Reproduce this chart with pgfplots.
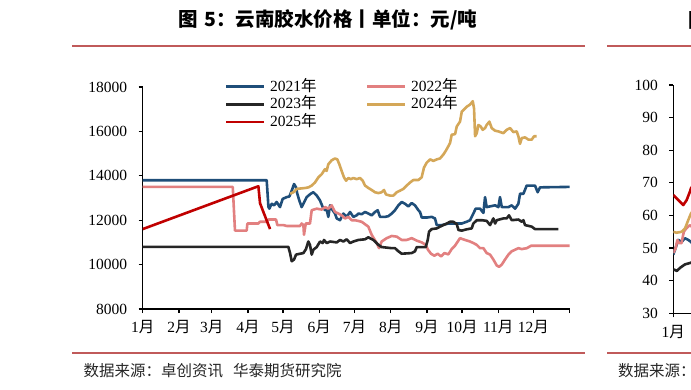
\documentclass[border=0pt]{standalone}
\usepackage{fontspec}
\usepackage{pgfplots}
\pgfplotsset{compat=1.18}
\setmainfont{Liberation Serif}
\newfontfamily\cjk{Noto Sans CJK SC}
\definecolor{c21}{RGB}{31,78,121}
\definecolor{c22}{RGB}{226,128,128}
\definecolor{c23}{RGB}{38,38,38}
\definecolor{c24}{RGB}{212,167,88}
\definecolor{c25}{RGB}{192,0,0}
\definecolor{rulec}{RGB}{192,90,90}
\newcommand{\fs}{\fontsize{15.5}{18}\selectfont}
\newcommand{\yue}{{\cjk 月}}
\newcommand{\nian}{{\cjk 年}}
\pgfplotsset{myax/.style={
  scale only axis, axis lines*=left,
  axis line style={line width=1.2pt, black},
  every tick/.style={line width=1.2pt, black},
  major tick length=4pt, tick align=outside,
  ticklabel style={font=\fs},
  scaled y ticks=false,
  /pgf/number format/assume math mode=true,
  /pgf/number format/1000 sep={},
  xtick={0,31,59,90,120,151,181,212,243,273,304,334,365},
  xticklabels={1\yue,2\yue,3\yue,4\yue,5\yue,6\yue,7\yue,8\yue,9\yue,10\yue,11\yue,12\yue,{}},
  xmin=0, xmax=365,
  yticklabel shift=8pt, xticklabel shift=4pt,
  every axis plot/.append style={line width=2.6pt, line join=round, no marks},
}}
\begin{document}
\begin{tikzpicture}[x=1pt,y=1pt]
\useasboundingbox (0,0) rectangle (691,389);
\clip (0,0) rectangle (691,389);
\node[font=\cjk\bfseries\fontsize{19.5}{22}\selectfont, inner sep=0pt] at (328,369) {图\hspace{0.3em}5：云南胶水价格丨单位：元/吨};
\node[font=\cjk\bfseries\fontsize{19.5}{22}\selectfont, inner sep=0pt, anchor=west] at (688.5,369) {图};
\draw[rulec, line width=2pt] (72,343.3) -- (585,343.3);
\draw[rulec, line width=2pt] (607,343.3) -- (691,343.3);
\draw[rulec, line width=2pt] (72,35.7) -- (585,35.7);
\draw[rulec, line width=2pt] (607,35.7) -- (691,35.7);
\node[anchor=west, inner sep=0pt, font=\cjk\fs, text=black!85] at (83.3,18.3) {数据来源：卓创资讯\hspace{0.65em}华泰期货研究院};
\node[anchor=west, inner sep=0pt, font=\cjk\fs, text=black!85] at (618,18.3) {数据来源：卓创资讯\hspace{0.65em}华泰期货研究院};

\begin{axis}[myax,
  at={(142.7pt,80pt)}, anchor=south west,
  width=426.9pt, height=222pt,
  ymin=8000, ymax=18000, ytick={8000,10000,...,18000},
  legend columns=2,
  legend image code/.code={\draw[#1] (0pt,0pt) -- (38pt,0pt);},
  legend style={draw=none, fill=none, inner sep=0pt, outer sep=0pt,
    at={(axis description cs:0.1928,1.036)}, anchor=north west,
    font=\fs, row sep=2.8pt,
    nodes={inner ysep=0pt, inner xsep=4.5pt, text height=12pt, text depth=3pt, anchor=west},
    /tikz/every even column/.append style={column sep=45pt}},
  legend cell align=left,
]
\addplot[c21] coordinates {(0,13800)(106,13800)(107.5,12600)(108.3,12520)(110.3,12740)(112.3,12670)(114.5,12820)(117.4,12590)(119.7,12960)(123.1,13040)(125.4,13070)(127.4,13330)(129.4,13630)(131.1,13480)(132.2,13190)(133.9,12890)(135.9,12590)(137.4,12740)(140.2,13040)(143.6,13190)(145.9,13260)(148.8,13110)(151.6,12890)(153.9,12590)(155.9,12450)(157.3,12480)(158.7,12150)(160.2,12670)(162.4,12450)(164.4,12300)(165.9,12080)(168.7,12000)(171.6,12300)(174.4,12150)(177.3,12370)(180.1,12150)(182.9,12220)(184.4,12300)(187.2,12270)(190.1,12370)(192.9,12300)(195.8,12220)(198.6,12370)(200.9,12450)(202.9,12150)(207.2,12150)(210.0,12180)(212.9,12300)(215.7,12450)(218.6,12670)(221.4,12820)(224.3,12740)(227.1,12620)(230.0,12770)(232.8,12670)(235.7,12450)(237.1,12370)(238.6,12120)(242.9,12120)(247.1,12150)(249.9,12080)(251.4,11780)(255.7,11780)(261.4,11850)(272.7,11850)(277.0,11930)(279.9,12000)(282.7,12300)(284.7,12520)(288.4,12520)(291.3,12330)(292.7,13040)(294.1,12590)(301.3,12670)(304.1,12590)(305.5,13040)(307.0,12590)(312.7,12590)(315.5,12670)(318.4,12520)(321.2,12740)(322.6,13190)(325.5,13190)(328.3,13560)(335.4,13560)(337.7,13260)(339.7,13480)(365,13500)};
\addlegendentry{2021\nian}
\addplot[c22] coordinates {(0,13500)(77,13500)(78.9,11530)(88.9,11530)(89.5,11850)(98.9,11850)(100.3,11930)(106,11930)(107.4,12030)(114,12030)(115.1,11780)(120.3,11780)(123.1,11740)(134.5,11740)(135.9,11850)(137.4,11780)(137.9,11340)(139.4,11850)(143,11850)(144.5,12450)(148.8,12520)(153,12480)(155.9,12590)(158.7,12520)(161.6,12670)(164.4,12370)(167.3,12300)(170.1,12220)(173,12080)(175.8,12150)(178.7,12000)(181.5,12000)(187.2,11930)(192.9,11710)(195.8,11340)(200.1,10970)(202.1,10740)(204.3,11040)(208.6,11190)(212.9,11290)(217.2,11260)(221.4,11110)(225.7,11110)(230,11190)(234.3,11080)(238.6,11000)(242,10890)(243.9,10670)(246.5,10490)(249.4,10400)(252.2,10490)(255.1,10370)(257.9,10520)(261.3,10460)(264.2,10700)(267,10850)(268.5,10970)(271.3,11190)(275.6,11110)(279.9,11040)(282.7,10970)(285.6,10890)(288.4,10740)(291.3,10740)(294.1,10520)(297,10450)(299.8,10230)(302.7,9960)(304.7,9900)(307,10000)(309.8,10230)(312.7,10450)(315.5,10600)(318.4,10670)(321.2,10740)(324.1,10700)(328.4,10740)(332.1,10850)(365,10850)};
\addlegendentry{2022\nian}
\addplot[c23] coordinates {(0,10800)(124.5,10800)(126,10520)(127.4,10150)(129.4,10230)(131.1,10450)(134.5,10490)(137.4,10520)(139.6,10700)(141.6,11040)(143,10890)(144.5,10450)(145.9,10670)(148.8,10790)(151.6,11040)(153.9,10970)(155,11110)(157.3,10970)(160.2,11040)(165.9,11000)(168.7,11110)(171.6,11040)(174.4,11140)(177.3,10970)(180.1,11040)(184.4,11110)(190.1,11140)(192.9,11230)(197.2,11110)(201.5,10890)(204.3,10790)(212.9,10740)(215.7,10740)(218.6,10600)(221.4,10490)(230,10520)(232.8,10600)(234.3,10790)(242,10790)(243.7,11110)(244.8,11480)(247.1,11600)(251.4,11630)(254.2,11710)(257.1,11780)(259.9,11850)(262.8,11930)(265.6,11930)(268.5,11820)(270,11560)(272.8,11530)(277,11590)(281.3,11630)(282.7,11850)(285.6,12000)(289.9,12000)(294.1,11970)(297,11780)(298.4,11930)(299.8,12080)(301.3,11850)(302.7,12000)(308.4,12080)(311.2,12080)(313.2,12220)(315.5,12000)(321.2,12030)(324.1,11930)(325.5,12000)(326.9,11780)(332.6,11710)(335.4,11600)(355.4,11600)};
\addlegendentry{2023\nian}
\addplot[c24] coordinates {(126,13190)(128.9,13260)(131.7,13410)(138.8,13450)(141.8,13480)(144.5,13560)(147.3,13700)(150.2,13930)(153,14070)(155.9,14300)(157.3,14220)(158.7,14520)(161.6,14700)(164.4,14780)(166.4,14740)(168.1,14520)(170.1,14220)(172.1,13930)(173.9,13780)(175.8,13900)(177.9,13850)(180.1,13900)(183,13850)(185.8,13900)(188.1,13780)(190.1,13560)(193,13450)(195.8,13360)(198.6,13260)(201.5,13220)(204.3,13260)(206.3,13360)(208,13160)(211.4,13110)(214.3,13110)(217.2,13260)(220,13330)(222.9,13410)(225.7,13560)(228.6,13700)(231.4,13810)(235.7,13810)(238.5,13930)(240.5,14370)(242.8,14590)(245.7,14740)(248.5,14670)(251.4,14740)(254.2,14780)(257.1,14960)(259.3,15140)(261.3,15330)(262.8,15480)(264.2,15850)(267.1,15880)(268.5,16220)(271.3,16440)(272.8,16890)(277,17110)(279.9,17210)(282.2,17360)(283.3,17030)(284.2,15780)(285.6,15920)(287,16290)(289,16220)(290.7,16070)(292.7,16150)(294.1,16290)(296.4,16440)(298.4,16150)(301.3,16030)(304.1,16000)(308.4,15920)(311.2,16070)(314.1,16150)(316.9,15970)(319.8,16000)(321.2,15780)(322.6,15440)(324.1,15700)(326.9,15730)(329.8,15630)(332.6,15630)(334.6,15780)(336.9,15780)};
\addlegendentry{2024\nian}
\addplot[c25] coordinates {(0,11600)(98.9,13530)(100.3,12770)(102.6,12450)(108.9,11600)};
\addlegendentry{2025\nian}
\end{axis}

\begin{axis}[myax,
  at={(673.3pt,75.7pt)}, anchor=south west,
  width=427pt, height=228.3pt,
  ymin=30, ymax=100, ytick={30,40,...,100},
]
\addplot[c21] coordinates {(0,48)(2.3,50.4)(4.3,52.5)(7.1,51.9)(10,53)(12.8,52.5)(15.1,51.9)(17,51)};
\addplot[c22] coordinates {(0,48.5)(2,50)(3.5,52.5)(5,51.5)(7,51.5)(9,55)(11,56)(14,57)(16,56.5)(18,57)};
\addplot[c23] coordinates {(0,43.5)(3,43)(6,44)(10,45)(15,45.5)(18,46)};
\addplot[c24] coordinates {(0,55)(2.8,54.7)(7.1,55)(10,56)(12.8,58.6)(15.1,60.6)(18,62)};
\addplot[c25] coordinates {(0,66.3)(4.3,64.7)(8.5,63.2)(11.4,64.7)(14.2,67.3)(15.1,68.3)(18,70)};
\end{axis}
\end{tikzpicture}
\end{document}
